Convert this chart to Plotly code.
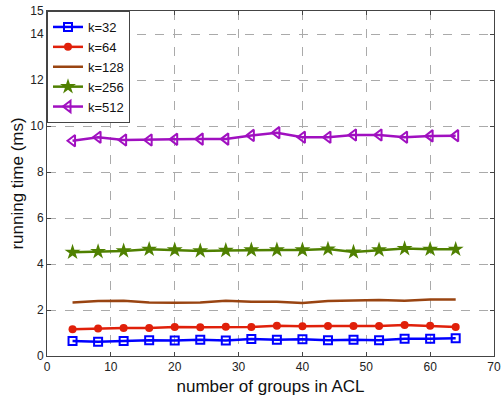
import plotly.graph_objects as go

x_groups = [4, 8, 12, 16, 20, 24, 28, 32, 36, 40, 44, 48, 52, 56, 60, 64]
k32 = [0.65, 0.62, 0.65, 0.68, 0.67, 0.71, 0.67, 0.74, 0.71, 0.73, 0.68, 0.71, 0.68, 0.75, 0.75, 0.77]
k64 = [1.16, 1.20, 1.22, 1.22, 1.26, 1.25, 1.27, 1.26, 1.32, 1.29, 1.30, 1.30, 1.30, 1.35, 1.32, 1.26]
k128 = [2.33, 2.39, 2.40, 2.33, 2.32, 2.33, 2.40, 2.36, 2.36, 2.30, 2.39, 2.40, 2.43, 2.40, 2.46, 2.46]
k256 = [4.51, 4.54, 4.57, 4.64, 4.61, 4.57, 4.59, 4.61, 4.61, 4.61, 4.65, 4.52, 4.61, 4.67, 4.64, 4.64]
k512 = [9.36, 9.51, 9.39, 9.39, 9.42, 9.43, 9.43, 9.59, 9.71, 9.51, 9.51, 9.61, 9.61, 9.51, 9.57, 9.58]
y_ticks = [0, 2, 4, 6, 8, 10, 12, 14, 15]
x_ticks = [0, 10, 20, 30, 40, 50, 60, 70]

series = [
    ("k=32", k32, "#0000ff", dict(symbol="square-open", size=8, line=dict(width=2, color="#0000ff"))),
    ("k=64", k64, "#e0200a", dict(symbol="circle", size=8, color="#e0200a")),
    ("k=128", k128, "#994411", None),
    ("k=256", k256, "#4f8000", dict(symbol="star", size=12, color="#4f8000")),
    ("k=512", k512, "#a010c0", dict(symbol="triangle-left-open", size=10, line=dict(width=2, color="#a010c0"))),
]

fig = go.Figure()
for name, ys, col, mk in series:
    kw = dict(x=x_groups, y=ys, name=name, line=dict(color=col, width=2.5))
    if mk is None:
        kw["mode"] = "lines"
    else:
        kw["mode"] = "lines+markers"
        kw["marker"] = mk
    fig.add_trace(go.Scatter(**kw))

axis_common = dict(
    showline=True, linecolor="#444", linewidth=1, mirror="ticks",
    ticks="inside", ticklen=4, tickcolor="#444",
    showgrid=True, gridcolor="#aaaaaa", griddash="dash", gridwidth=1,
    zeroline=False, tickfont=dict(size=12, color="#222"),
)
fig.update_xaxes(range=[0, 70], tickvals=x_ticks,
                 title=dict(text="number of groups in ACL", font=dict(size=17, color="#111"), standoff=6),
                 **axis_common)
fig.update_yaxes(range=[0, 15], tickvals=y_ticks,
                 title=dict(text="running time (ms)", font=dict(size=17, color="#111"), standoff=2),
                 **axis_common)

fig.update_layout(
    width=503, height=397,
    margin=dict(l=47, r=9, t=11, b=41, autoexpand=False),
    paper_bgcolor="white", plot_bgcolor="white",
    font=dict(family="Liberation Sans, Arial, sans-serif", color="#111"),
    legend=dict(x=0, y=1, xanchor="left", yanchor="top",
                bgcolor="white", bordercolor="#444", borderwidth=1,
                font=dict(size=13), tracegroupgap=0, itemwidth=30),
    showlegend=True,
)

fig.write_html("out.html")
